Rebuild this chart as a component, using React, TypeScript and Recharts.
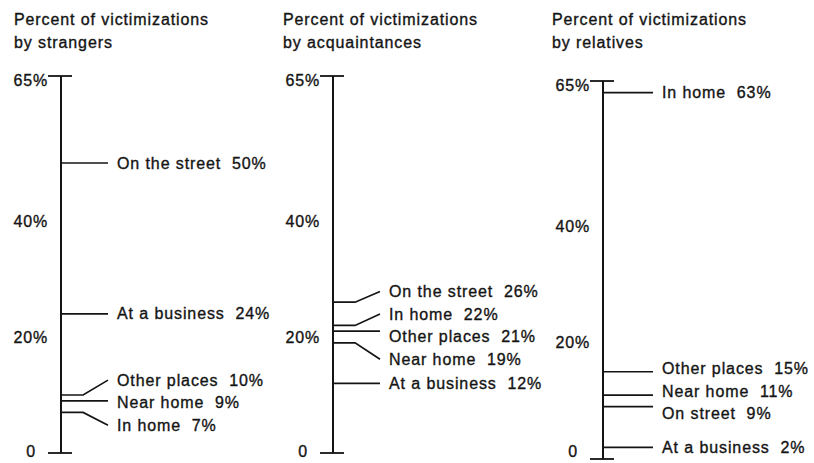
import { ComposedChart, Line, Scatter, XAxis, YAxis } from 'recharts';

const titleLine = 'Percent of victimizations';

const strangerPlaces = ['On the street', 'At a business', 'Other places', 'Near home', 'In home'];
const strangerValues = [50, 24, 10, 9, 7];

const acquaintancePlaces = ['On the street', 'In home', 'Other places', 'Near home', 'At a business'];
const acquaintanceValues = [26, 22, 21, 19, 12];

const relativePlaces = ['In home', 'Other places', 'Near home', 'On street', 'At a business'];
const relativeValues = [63, 15, 11, 9, 2];

const yTicks = [0, 20, 40, 65];
const yMax = 65;

const FONT = '"Liberation Sans", Arial, sans-serif';
const INK = '#141414';
const LABEL_GAP = 3.9; // min distance between labels, in percent units
const BEND_AT = 0.47;

// push crowded labels apart, centring each crowded group on its mean
function spreadLabels(values: number[]) {
    const order = values.map((_, i) => i).sort((a, b) => values[b] - values[a]);
    const top = (g: { idx: number[]; sum: number }) =>
        g.sum / g.idx.length + ((g.idx.length - 1) * LABEL_GAP) / 2;
    const groups: { idx: number[]; sum: number }[] = [];
    for (const i of order) {
        groups.push({ idx: [i], sum: values[i] });
        while (groups.length > 1) {
            const cur = groups[groups.length - 1];
            const prev = groups[groups.length - 2];
            const prevBottom = top(prev) - (prev.idx.length - 1) * LABEL_GAP;
            if (prevBottom - LABEL_GAP < top(cur)) {
                groups.splice(groups.length - 2, 2, { idx: prev.idx.concat(cur.idx), sum: prev.sum + cur.sum });
            } else break;
        }
    }
    const out: number[] = new Array(values.length);
    groups.forEach((g) => {
        const t = top(g);
        g.idx.forEach((i, k) => (out[i] = t - k * LABEL_GAP));
    });
    return out;
}

const textStyle = { stroke: INK, strokeWidth: 0.35, whiteSpace: 'pre' as const };

const AxisTick = (props: any) => {
    const { x, y, payload } = props;
    const v = payload.value;
    const isEnd = v === 0 || v === yMax;
    // keep the bottom "0" clear of the page edge
    const ty = v === yMax ? y + 4 : v === 0 ? Math.min(y - 1, 451) : y;
    return (
        <g>
            {isEnd && <line x1={x} x2={x + 24} y1={y} y2={y} stroke={INK} strokeWidth={1.8} />}
            <text
                x={v === 0 ? x - 12 : x}
                y={ty}
                textAnchor="end"
                dominantBaseline="central"
                fontSize={16}
                letterSpacing={0.8}
                fontFamily={FONT}
                fill={INK}
                style={textStyle}
            >
                {v === 0 ? '0' : `${v}%`}
            </text>
        </g>
    );
};

const PlaceLabel = (props: any) => {
    const { cx, cy, payload } = props;
    return (
        <text
            x={cx + 9}
            y={cy}
            dominantBaseline="central"
            fontSize={16}
            letterSpacing={0.9}
            fontFamily={FONT}
            fill={INK}
            style={textStyle}
        >
            {payload.text}
        </text>
    );
};

type PanelProps = {
    subject: string;
    places: string[];
    values: number[];
    left: number;
    titleX: number;
    width: number;
    top: number;
    bottom: number;
    leader: number;
};

function Panel({ subject, places, values, left, titleX, width, top, bottom, leader }: PanelProps) {
    const labelAt = spreadLabels(values);
    const labels = places.map((p, i) => ({ x: 1, y: labelAt[i], text: `${p}  ${values[i]}%` }));

    return (
        <div style={{ position: 'absolute', left, top: 0, width, height: 463 }}>
            <div
                style={{
                    position: 'absolute',
                    left: titleX,
                    top: 8,
                    fontFamily: FONT,
                    fontSize: 16,
                    letterSpacing: 0.9,
                    lineHeight: '23px',
                    color: INK,
                    whiteSpace: 'nowrap',
                    WebkitTextStroke: '0.35px #141414',
                }}
            >
                {titleLine}
                <br />
                {subject}
            </div>
            <ComposedChart
                width={width}
                height={463}
                margin={{ top, bottom, left: 0, right: width - 61 - leader }}
            >
                <XAxis type="number" dataKey="x" domain={[0, 1]} hide />
                <YAxis
                    type="number"
                    domain={[0, yMax]}
                    ticks={yTicks}
                    interval={0}
                    width={61}
                    tickSize={0}
                    tickMargin={13}
                    tickLine={false}
                    axisLine={{ stroke: INK, strokeWidth: 2 }}
                    tick={<AxisTick />}
                />
                {values.map((v, i) => {
                    const diff = Math.abs(labelAt[i] - v);
                    const pts =
                        diff < 1.3
                            ? [{ x: 0, y: v }, { x: 1, y: v }]
                            : [{ x: 0, y: v }, { x: BEND_AT, y: v }, { x: 1, y: labelAt[i] }];
                    return (
                        <Line
                            key={places[i]}
                            data={pts}
                            dataKey="y"
                            type="linear"
                            stroke={INK}
                            strokeWidth={1.7}
                            dot={false}
                            activeDot={false}
                            isAnimationActive={false}
                        />
                    );
                })}
                <Scatter data={labels} dataKey="y" shape={<PlaceLabel />} isAnimationActive={false} />
            </ComposedChart>
        </div>
    );
}

export default function App() {
    return (
        <div style={{ position: 'absolute', left: 0, top: 0, width: 814, height: 463, background: '#fff', overflow: 'hidden' }}>
            <Panel subject="by strangers" places={strangerPlaces} values={strangerValues} left={0} titleX={14} width={285} top={76} bottom={10} leader={47} />
            <Panel subject="by acquaintances" places={acquaintancePlaces} values={acquaintanceValues} left={272} titleX={11} width={280} top={76} bottom={10} leader={47} />
            <Panel subject="by relatives" places={relativePlaces} values={relativeValues} left={542} titleX={10} width={272} top={81} bottom={4} leader={50} />
        </div>
    );
}
